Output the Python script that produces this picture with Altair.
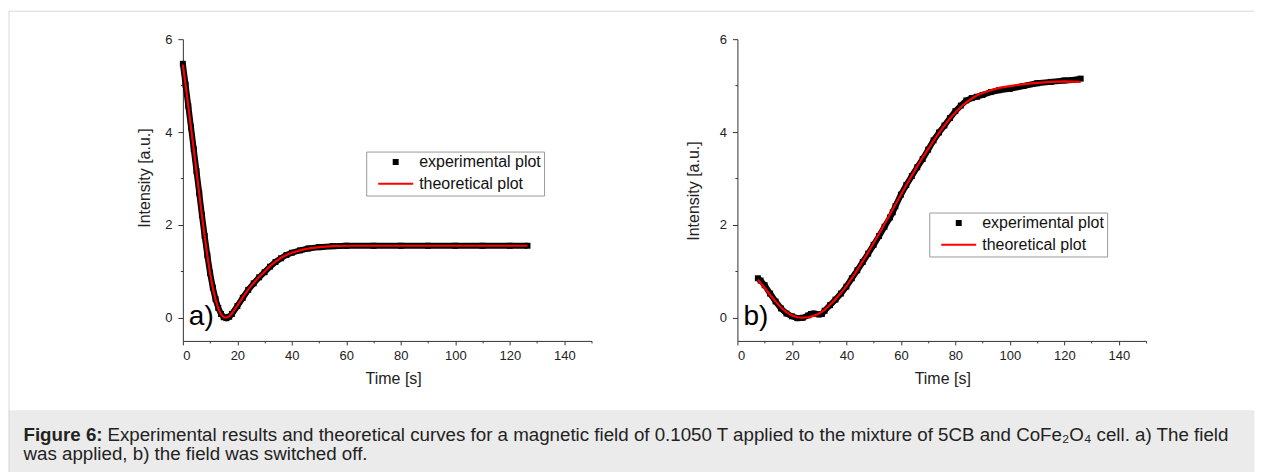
import altair as alt
import pandas as pd

FONT = "Liberation Sans"
EXP_LABEL = "experimental plot"
THEO_LABEL = "theoretical plot"

# ---- panel a) field applied ----
time_a = [0, 1, 2, 3, 4, 5, 6, 7, 8, 9, 10, 11, 12, 13, 14, 15, 16, 17, 18, 20, 22, 24, 26,
          28, 30, 32, 34, 36, 38, 40, 43, 46, 50, 55, 60, 70, 80, 90, 100, 110, 120, 126.5]
exp_a = [5.47, 5.02, 4.56, 4.10, 3.63, 3.16, 2.69, 2.21, 1.76, 1.34, 0.96, 0.65, 0.40, 0.21,
         0.08, 0.01, -0.01, 0.02, 0.08, 0.25, 0.43, 0.60, 0.74, 0.87, 0.98, 1.10, 1.20, 1.28,
         1.35, 1.40, 1.45, 1.49, 1.52, 1.54, 1.55, 1.55, 1.55, 1.55, 1.55, 1.55, 1.55, 1.55]
theo_a = [5.45, 5.01, 4.55, 4.09, 3.62, 3.15, 2.68, 2.20, 1.75, 1.33, 0.95, 0.64, 0.39, 0.20,
          0.07, 0.01, 0.00, 0.03, 0.09, 0.26, 0.44, 0.61, 0.75, 0.88, 0.99, 1.11, 1.21, 1.29,
          1.35, 1.40, 1.45, 1.49, 1.52, 1.54, 1.55, 1.55, 1.55, 1.55, 1.55, 1.55, 1.55, 1.55]

# ---- panel b) field switched off ----
time_b_exp = [7.5, 8.5, 10, 12, 14, 16, 18, 20, 22, 24, 26, 27, 28, 30, 31, 32, 34, 36, 38, 40,
              42, 44, 46, 48, 50, 52, 54, 56, 57, 58, 60, 62, 64, 66, 68, 70, 72, 74, 76, 78,
              80, 82, 84, 86, 88, 90, 93, 96, 100, 105, 110, 115, 120, 123, 126]
exp_b = [0.85, 0.80, 0.70, 0.52, 0.35, 0.20, 0.09, 0.03, -0.01, 0.00, 0.05, 0.08, 0.09, 0.07,
         0.08, 0.15, 0.27, 0.39, 0.52, 0.67, 0.85, 1.02, 1.20, 1.38, 1.57, 1.76, 1.96, 2.16,
         2.27, 2.40, 2.65, 2.86, 3.05, 3.24, 3.42, 3.62, 3.82, 3.99, 4.14, 4.30, 4.45, 4.57,
         4.68, 4.73, 4.76, 4.80, 4.86, 4.90, 4.93, 4.99, 5.05, 5.08, 5.11, 5.12, 5.15]
time_b_theo = [7.5, 10, 12, 14, 16, 18, 20, 22, 24, 26, 28, 30, 32, 34, 36, 38, 40, 42, 44, 46,
               48, 50, 52, 54, 56, 58, 60, 62, 64, 66, 68, 70, 72, 74, 76, 78, 80, 82, 84, 86,
               88, 90, 93, 96, 100, 105, 110, 115, 120, 126]
theo_b = [0.82, 0.64, 0.49, 0.35, 0.22, 0.12, 0.05, 0.01, 0.00, 0.01, 0.04, 0.09, 0.17, 0.28,
          0.40, 0.53, 0.68, 0.85, 1.03, 1.22, 1.41, 1.61, 1.81, 2.02, 2.23, 2.44, 2.65, 2.86,
          3.06, 3.26, 3.45, 3.63, 3.81, 3.98, 4.14, 4.29, 4.42, 4.54, 4.64, 4.72, 4.79, 4.84,
          4.90, 4.95, 4.99, 5.03, 5.06, 5.08, 5.09, 5.08]

x_major = [0, 20, 40, 60, 80, 100, 120, 140]
x_minor = [10, 30, 50, 70, 90, 110, 130, 150]
y_major = [0, 2, 4, 6]
y_minor = [1, 3, 5]

caption_bold = "Figure 6:"
caption_line1 = ("Experimental results and theoretical curves for a magnetic field of 0.1050 T "
                 "applied to the mixture of 5CB and CoFe\u2082O\u2084 cell. a) The field")
caption_line2 = "was applied, b) the field was switched off."

AX = "#333333"
W, H = 409, 302
CAP_FS = 18.75
RIGHT = 1072.5   # keeps the whole figure inside the 1247 px body width

one = pd.DataFrame({"k": [0]})

color_scale = alt.Scale(domain=[EXP_LABEL, THEO_LABEL], range=["#000000", "#ff0000"])
shape_scale = alt.Scale(domain=[EXP_LABEL, THEO_LABEL],
                        range=["M-0.17,-0.17H0.17V0.17H-0.17Z", "M-1,-0.06H1V0.06H-1Z"])


def panel(t_exp, v_exp, t_theo, v_theo, letter, leg_x, leg_y, ytx, yty, xtx, extras):
    exp_df = pd.DataFrame({"t": t_exp, "v": v_exp, "series": EXP_LABEL})
    theo_df = pd.DataFrame({"t": t_theo, "v": v_theo, "series": THEO_LABEL})
    xs = alt.Scale(domain=[0, 150], nice=False, zero=False)
    ys = alt.Scale(domain=[-0.5, 6], nice=False, zero=False)
    x_axis = alt.Axis(values=x_major, format="d", orient="bottom", grid=False, tickSize=4,
                      labelPadding=5, labelFontSize=13, labelFont=FONT,
                      title="Time [s]", titleX=xtx, titleY=30, titleFontSize=16,
                      titleBaseline="top", titleAlign="center")
    y_axis = alt.Axis(values=y_major, format="d", orient="left", grid=False, tickSize=5,
                      labelPadding=6, labelFontSize=13, labelFont=FONT,
                      title="Intensity [a.u.]", titleX=ytx, titleY=yty, titleFontSize=16,
                      titleAngle=270, titleBaseline="middle", titleAlign="center")
    x_min_axis = alt.Axis(values=x_minor, orient="bottom", grid=False, tickSize=2,
                          labels=False, domain=False, title=None)
    y_min_axis = alt.Axis(values=y_minor, orient="left", grid=False, tickSize=2.5,
                          labels=False, domain=False, title=None)
    leg = alt.Legend(title=None, orient="none", legendX=leg_x, legendY=leg_y,
                     strokeColor="#9a9a9a", fillColor="#ffffff", padding=3,
                     symbolOffset=8, symbolSize=1225, clipHeight=15, rowPadding=4.7,
                     labelFont=FONT, labelFontSize=16, labelColor="#111111", labelOffset=5)

    band = alt.Chart(exp_df).mark_line(color="#000000", strokeWidth=6).encode(
        x=alt.X("t:Q", scale=xs, axis=x_axis),
        y=alt.Y("v:Q", scale=ys, axis=y_axis),
    )
    pts = alt.Chart(exp_df).mark_point(filled=True, size=1225, opacity=1).encode(
        x=alt.X("t:Q", scale=xs, axis=x_min_axis),
        y=alt.Y("v:Q", scale=ys, axis=y_min_axis),
        color=alt.Color("series:N", scale=color_scale, legend=leg),
        shape=alt.Shape("series:N", scale=shape_scale, legend=leg),
    )
    red = alt.Chart(theo_df).mark_line(color="#ff0000", strokeWidth=2.2).encode(
        x=alt.X("t:Q", scale=xs, axis=None),
        y=alt.Y("v:Q", scale=ys, axis=None),
    )
    lab = alt.Chart(one).mark_text(text=letter, font=FONT, fontSize=28, align="left",
                                   baseline="alphabetic", color="#000000").encode(
        x=alt.value(6), y=alt.value(286))
    layers = [band, pts, red, lab] + extras
    return alt.layer(*layers).resolve_axis(x="independent", y="independent").properties(
        width=W, height=H)


# decorations: outer frame and caption band (placed relative to panel a)
cap_bg = alt.Chart(one).mark_rect(color="#ebebeb").encode(
    x=alt.value(-174.5), x2=alt.value(RIGHT), y=alt.value(371.5), y2=alt.value(433.5))
frame_left = alt.Chart(one).mark_rule(color="#d9d9d9", strokeWidth=1).encode(
    x=alt.value(-174), y=alt.value(-28), y2=alt.value(433.5))
frame_top = alt.Chart(one).mark_rule(color="#d9d9d9", strokeWidth=1).encode(
    x=alt.value(-174.5), x2=alt.value(RIGHT), y=alt.value(-28))
cap_b = alt.Chart(one).mark_text(text=caption_bold, font=FONT, fontSize=CAP_FS,
                                 fontWeight="bold", align="left", baseline="alphabetic",
                                 color="#222222").encode(
    x=alt.value(-159.5), y=alt.value(402))
cap_1 = alt.Chart(one).mark_text(text=caption_line1, font=FONT, fontSize=CAP_FS,
                                 align="left", baseline="alphabetic", color="#222222").encode(
    x=alt.value(-75.5), y=alt.value(402))
cap_2 = alt.Chart(one).mark_text(text=caption_line2, font=FONT, fontSize=CAP_FS,
                                 align="left", baseline="alphabetic", color="#222222").encode(
    x=alt.value(-159.5), y=alt.value(421.5))

pa = panel(time_a, exp_a, time_a, theo_a, "a)", 183.5, 112.5, -38.5, 138.5, 210.5,
           [cap_bg, frame_left, frame_top, cap_b, cap_1, cap_2])
pb = panel(time_b_exp, exp_b, time_b_theo, theo_b, "b)", 192, 173.5, -43.5, 151.5, 205, [])

chart = alt.hconcat(pa, pb, spacing=146, bounds="flush").resolve_scale(
    color="independent", shape="independent"
).properties(
    padding={"left": 0, "top": 2, "right": 0, "bottom": 0},
    background="#ffffff",
).configure_view(stroke=None).configure_axis(
    domainColor=AX, tickColor=AX, labelColor="#222222", titleColor="#222222",
    labelFont=FONT, titleFont=FONT, labelFontSize=13, titleFontSize=16,
    titleFontWeight="normal", domainWidth=1, tickWidth=1,
)

chart.save("out.html", embed_options={"renderer": "svg", "actions": False})
